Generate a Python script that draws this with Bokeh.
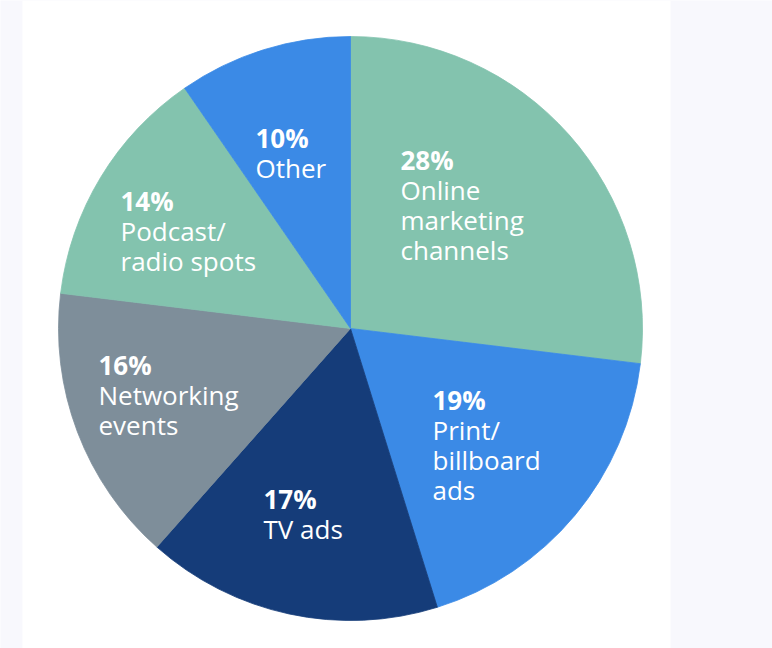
import math
from bokeh.plotting import figure
from bokeh.models import Range1d, ColumnDataSource
from bokeh.core.properties import value
from bokeh.embed import file_html
from bokeh.resources import INLINE

# ---- data ----
categories = ["Online\nmarketing\nchannels", "Print/\nbillboard\nads", "TV ads",
              "Networking\nevents", "Podcast/\nradio spots", "Other"]
shares = [28, 19, 17, 16, 14, 10]
colors = ["#83c3ae", "#3b8ae6", "#153c79", "#7e8e9a", "#83c3ae", "#3b8ae6"]

# ---- layout (pixels) ----
W, H = 772, 648
CX, CY, R = 350, 328, 292
# label anchor: left x, baseline of the percentage line
label_pos = [(400, 168), (432, 408), (263, 507), (98, 373), (120, 209), (255, 146)]
LINE = 30
SHIFT = -9
FONT = "Open Sans"

p = figure(width=W, height=H, output_backend="svg", toolbar_location=None,
           x_range=Range1d(0, W), y_range=Range1d(-H, 0), min_border=0)
p.axis.visible = False
p.grid.visible = False
p.outline_line_color = None
p.background_fill_color = "#f8f8fd"
p.border_fill_color = "#f8f8fd"

# white panel
p.quad(left=[22], right=[670], bottom=[-H], top=[0], fill_color="white", line_color=None)

total = sum(shares)
starts, ends = [], []
cum = 0.0
for s in shares:
    c0 = cum / total
    cum += s
    c1 = cum / total
    starts.append(math.pi / 2 - 2 * math.pi * c1)
    ends.append(math.pi / 2 - 2 * math.pi * c0)

src = ColumnDataSource(dict(x=[CX] * len(shares), y=[-CY] * len(shares),
                            start=starts, end=ends, color=colors))
p.wedge(x="x", y="y", radius=R, start_angle="start", end_angle="end",
        direction="anticlock", fill_color="color", line_color="color",
        line_width=0.8, source=src)

px, py, pt = [], [], []
nx, ny, nt = [], [], []
for (lx, ly), s, cat in zip(label_pos, shares, categories):
    by = ly + SHIFT
    px.append(lx); py.append(-by); pt.append(f"{s}%")
    for i, line in enumerate(cat.split("\n")):
        nx.append(lx); ny.append(-(by + LINE * (i + 1))); nt.append(line)

p.text(x=px, y=py, text=pt, text_font=value(FONT), text_font_style="bold",
       text_font_size="26px", text_color="white", text_baseline="alphabetic",
       text_align="left")
p.text(x=nx, y=ny, text=nt, text_font=value(FONT), text_font_size="26px",
       text_color="white", text_baseline="alphabetic", text_align="left")

open("out.html", "w").write(file_html(p, INLINE))
